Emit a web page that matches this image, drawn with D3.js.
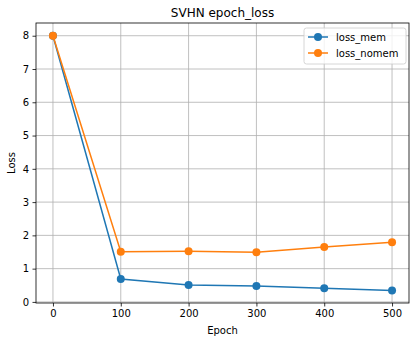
<!DOCTYPE html>
<html>
<head>
<meta charset="utf-8">
<script src="https://cdn.jsdelivr.net/npm/d3@7"></script>
<style>
  body { margin: 0; background: #fff; }
  text { font-family: "DejaVu Sans", sans-serif; fill: #000; }
</style>
</head>
<body>
<svg width="416" height="342"></svg>
<script>
// data
const epochs = [0, 100, 200, 300, 400, 500];
const lossMem = [8.0, 0.69, 0.51, 0.48, 0.41, 0.34];
const lossNomem = [8.0, 1.51, 1.52, 1.49, 1.65, 1.79];
const xTicks = [0, 100, 200, 300, 400, 500];
const yTicks = [0, 1, 2, 3, 4, 5, 6, 7, 8];
const seriesNames = ["loss_mem", "loss_nomem"];
const colors = ["#1f77b4", "#ff7f0e"];

const svg = d3.select("svg");
const margin = { top: 23, right: 7, bottom: 39, left: 36 };
const width = 416 - margin.left - margin.right;
const height = 342 - margin.top - margin.bottom;

const x = d3.scaleLinear().domain([-25, 525]).range([0, width]);
const y = d3.scaleLinear().domain([-0.0325, 8.3825]).range([height, 0]);

const g = svg.append("g").attr("transform", `translate(${margin.left},${margin.top})`);

// grid
g.append("g").selectAll("line").data(xTicks).join("line")
  .attr("x1", d => x(d)).attr("x2", d => x(d))
  .attr("y1", 0).attr("y2", height)
  .attr("stroke", "#b0b0b0").attr("stroke-width", 0.8);
g.append("g").selectAll("line").data(yTicks).join("line")
  .attr("y1", d => y(d)).attr("y2", d => y(d))
  .attr("x1", 0).attr("x2", width)
  .attr("stroke", "#b0b0b0").attr("stroke-width", 0.8);

// axes
const xAxis = g.append("g").attr("transform", `translate(0,${height})`)
  .call(d3.axisBottom(x).tickValues(xTicks).tickSize(3.5).tickPadding(3.5));
const yAxis = g.append("g")
  .call(d3.axisLeft(y).tickValues(yTicks).tickSize(3.5).tickPadding(3.5));
[xAxis, yAxis].forEach(a => {
  a.select(".domain").remove();
  a.selectAll("text").style("font-family", "DejaVu Sans").style("font-size", "10px").attr("fill", "#000");
  a.selectAll("line").attr("stroke", "#000").attr("stroke-width", 0.8);
});

// frame
g.append("rect").attr("width", width).attr("height", height)
  .attr("fill", "none").attr("stroke", "#000").attr("stroke-width", 0.8);

// lines
const line = d3.line().x((d, i) => x(epochs[i])).y(d => y(d));
[lossMem, lossNomem].forEach((vals, k) => {
  g.append("path").datum(vals).attr("d", line)
    .attr("fill", "none").attr("stroke", colors[k]).attr("stroke-width", 1.5);
  g.append("g").selectAll("circle").data(vals).join("circle")
    .attr("cx", (d, i) => x(epochs[i])).attr("cy", d => y(d)).attr("r", 4)
    .attr("fill", colors[k]);
});

// title & labels
svg.append("text").attr("x", margin.left + width / 2).attr("y", 17)
  .attr("text-anchor", "middle").style("font-size", "12px").text("SVHN epoch_loss");
svg.append("text").attr("x", margin.left + width / 2).attr("y", 334)
  .attr("text-anchor", "middle").style("font-size", "10px").text("Epoch");
svg.append("text").attr("transform", `translate(15,${margin.top + height / 2}) rotate(-90)`)
  .attr("text-anchor", "middle").style("font-size", "10px").text("Loss");

// legend
const lg = g.append("g").attr("transform", `translate(${width - 105},5)`);
lg.append("rect").attr("width", 102).attr("height", 36).attr("rx", 2.5)
  .attr("fill", "#fff").attr("fill-opacity", 0.8).attr("stroke", "#cccccc").attr("stroke-width", 0.8);
seriesNames.forEach((name, k) => {
  const yy = 9 + k * 16;
  lg.append("line").attr("x1", 4).attr("x2", 24).attr("y1", yy).attr("y2", yy)
    .attr("stroke", colors[k]).attr("stroke-width", 1.5);
  lg.append("circle").attr("cx", 14).attr("cy", yy).attr("r", 4).attr("fill", colors[k]);
  lg.append("text").attr("x", 32).attr("y", yy + 3.5).style("font-size", "10px").text(name);
});
</script>
</body>
</html>
